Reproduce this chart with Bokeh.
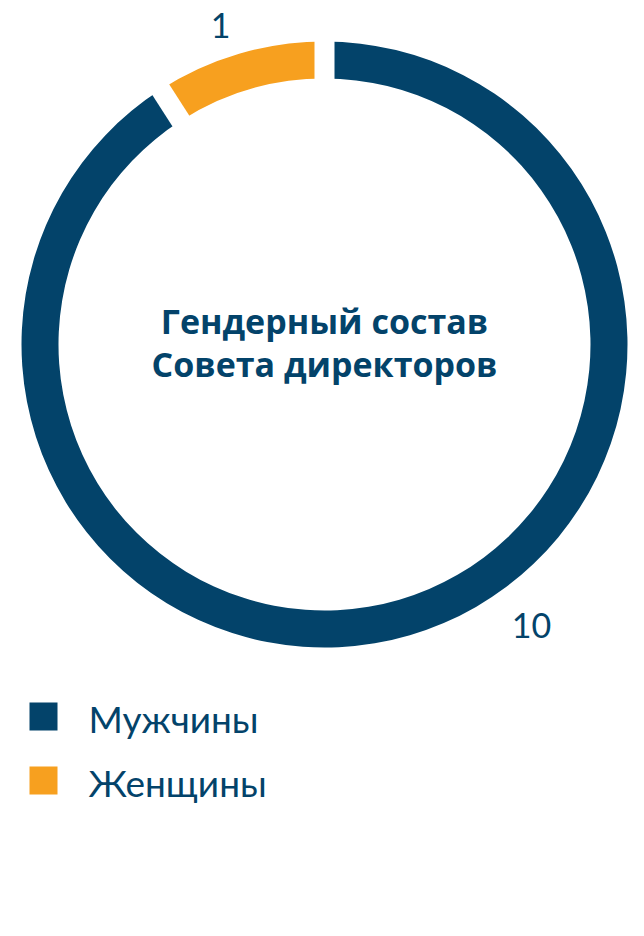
import numpy as np
from bokeh.plotting import figure
from bokeh.models import Range1d, ColumnDataSource
from bokeh.core.properties import value
from bokeh.embed import file_html
from bokeh.resources import INLINE

# ---- data ----
categories = ["Мужчины", "Женщины"]
counts = [10, 1]
colors = ["#03436A", "#F7A01F"]
title_lines = ["Гендерный состав", "Совета директоров"]

NAVY = "#03436A"
W, H = 628, 920

def px(x):
    return x

def py(y):
    return H - y

p = figure(width=W, height=H, output_backend="svg", toolbar_location=None,
           x_range=Range1d(0, W), y_range=Range1d(0, H), min_border=0)
p.axis.visible = False
p.grid.visible = False
p.outline_line_color = None
p.background_fill_color = "white"
p.border_fill_color = "white"

cx, cy = px(324), py(344)
r_out, r_in = 303, 266

# slices: women first, going counter-clockwise from the top
order = [1, 0]
total = sum(counts)
start = 90.0
starts, ends, cols, vals = [], [], [], []
for i in order:
    span = 360.0 * counts[i] / total
    starts.append(np.deg2rad(start))
    ends.append(np.deg2rad(start + span))
    cols.append(colors[i])
    vals.append(counts[i])
    start += span

src = ColumnDataSource(dict(start=starts, end=ends, color=cols))
p.annular_wedge(x=cx, y=cy, inner_radius=r_in, outer_radius=r_out,
                start_angle="start", end_angle="end", color="color",
                line_color=None, source=src)

# constant-width white gaps at slice boundaries
b = np.array(starts)
p.segment(x0=cx + (r_in - 10) * np.cos(b), y0=cy + (r_in - 10) * np.sin(b),
          x1=cx + (r_out + 10) * np.cos(b), y1=cy + (r_out + 10) * np.sin(b),
          line_color="white", line_width=20)

# value labels
p.text(x=[px(220), px(531)], y=[py(25), py(625)],
       text=[str(vals[0]), str(vals[1])],
       text_font=value("Lato"), text_font_size="34px", text_color=NAVY,
       text_align="center", text_baseline="middle")

# title in centre
p.text(x=[cx, cx], y=[py(320), py(363)], text=title_lines,
       text_font=value("Open Sans"), text_font_style="bold",
       text_font_size="34px", text_color=NAVY,
       text_align="center", text_baseline="middle")

# legend
leg_y = [716, 780]
p.scatter(x=[px(43)] * 2, y=[py(v) for v in leg_y], marker="square",
          size=28, color=colors, line_color=None)
p.text(x=[px(88)] * 2, y=[py(v + 2) for v in leg_y], text=categories,
       text_font=value("Lato"), text_font_size="37px", text_color=NAVY,
       text_align="left", text_baseline="middle")

open("out.html", "w").write(file_html(p, INLINE))
